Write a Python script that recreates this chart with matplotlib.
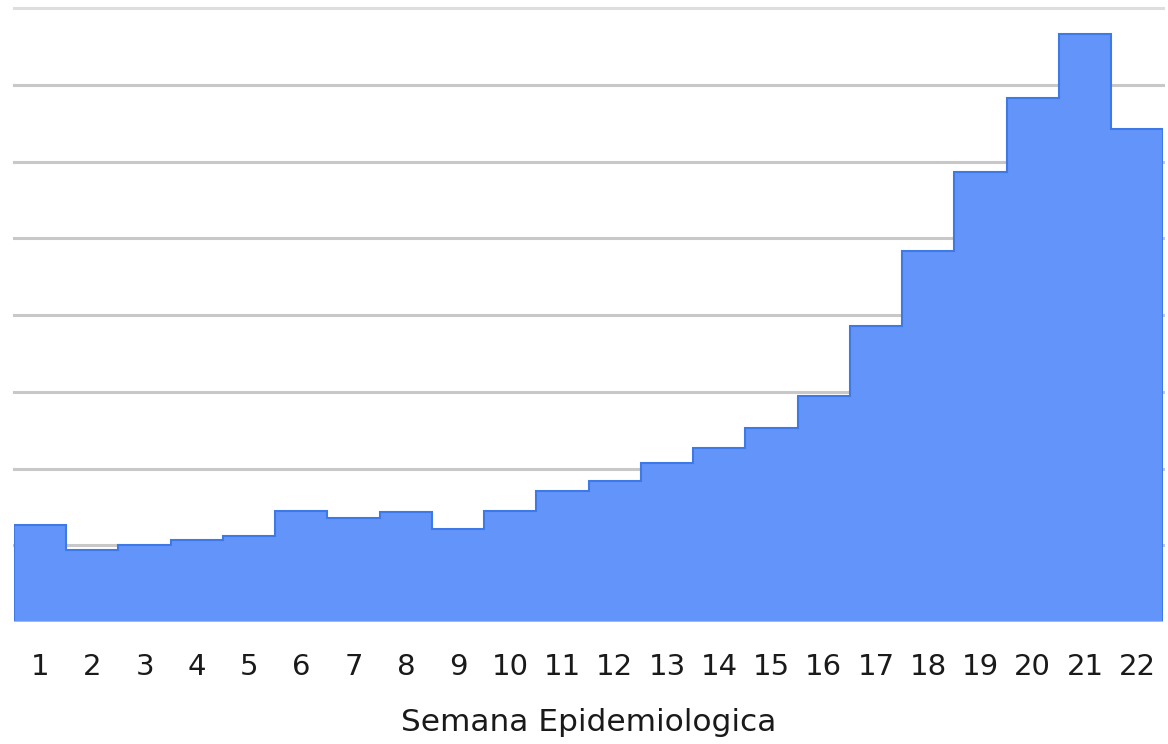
import matplotlib
matplotlib.use("Agg")
import matplotlib.pyplot as plt
import numpy as np

# semanas epidemiologicas y casos (escala aproximada)
weeks = list(range(1, 23))
cases = [126, 94, 100, 107, 112, 145, 136, 143, 121, 145, 171, 184,
         207, 227, 253, 294, 386, 483, 586, 683, 766, 642]
grid_levels = [0, 100, 200, 300, 400, 500, 600, 700, 800]

FILL = "#6394f9"
EDGE = "#3f79e6"

plt.rcParams["font.family"] = ["DejaVu Sans"]

fig = plt.figure(figsize=(11.68, 7.44), dpi=100)
ax = fig.add_axes([0.012, 0.164, 0.984, 0.825])

edges = np.arange(0.5, len(weeks) + 1, 1.0)
ax.stairs(cases, edges, fill=True, color=FILL, zorder=2)
ax.stairs(cases, edges, fill=False, color=EDGE, linewidth=1.5, zorder=3)

for lvl in grid_levels[1:]:
    c = "#dedede" if lvl == grid_levels[-1] else "#c8c8c8"
    ax.axhline(lvl, color=c, linewidth=2.2, zorder=1, clip_on=False)
ax.axhline(0, color="#aebfe6", linewidth=2, zorder=4)

ax.set_xlim(0.5, len(weeks) + 0.5)
ax.set_ylim(0, grid_levels[-1])
ax.set_xticks(weeks)
ax.set_xticklabels([str(w) for w in weeks], fontsize=21, color="#1a1a1a")
ax.set_yticks([])
ax.tick_params(axis="x", length=0, pad=22)
for s in ax.spines.values():
    s.set_visible(False)

ax.set_xlabel("Semana Epidemiologica", fontsize=22.5, color="#1a1a1a",
              labelpad=20)

fig.savefig("out.png", dpi=100)
